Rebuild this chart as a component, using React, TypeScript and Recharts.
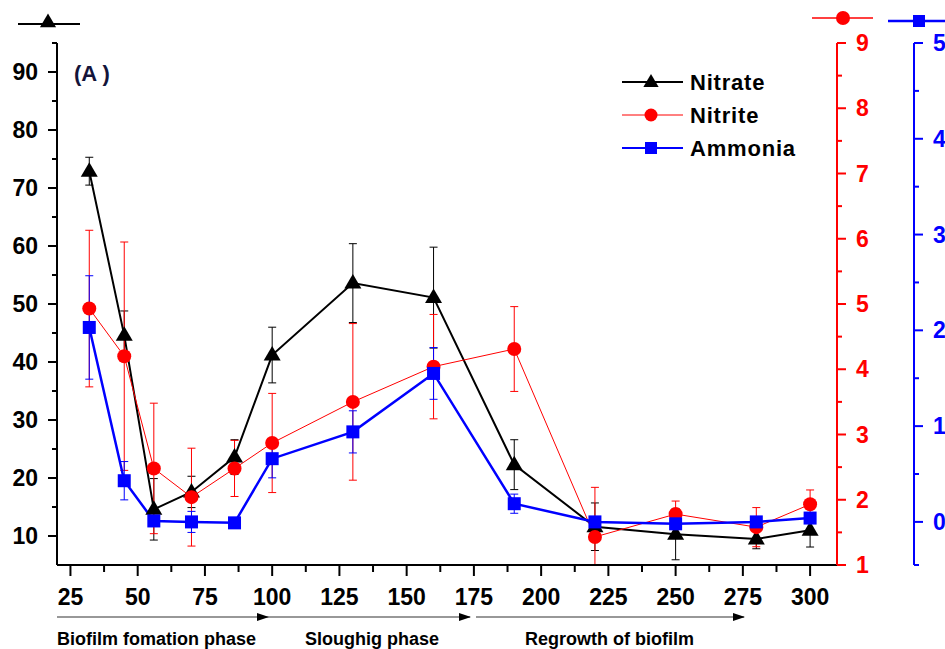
import { LineChart, Line, XAxis, YAxis, ErrorBar, Legend } from 'recharts';

// sampling days
const days = [32, 45, 56, 70, 86, 100, 130, 160, 190, 220, 250, 280, 300];

// left axis
const nitrate = [72.9, 44.6, 14.6, 17.6, 23.6, 41.2, 53.6, 51.1, 22.3, 11.6, 10.3, 9.5, 11.0];
const nitrateErr = [2.4, 4.2, 5.3, 2.7, 3.0, 4.8, 6.8, 8.7, 4.3, 4.1, 4.4, 1.7, 2.9];

// red right axis (220 bar is lopsided: [down, up])
const nitrite = [4.93, 4.2, 2.48, 2.04, 2.48, 2.87, 3.5, 4.04, 4.31, 1.43, 1.78, 1.58, 1.93];
const nitriteErr: (number | number[])[] = [1.2, 1.75, 1.0, 0.75, 0.43, 0.76, 1.2, 0.8, 0.65, [0.43, 0.76], 0.2, 0.3, 0.22];

// blue right axis
const ammonia = [2.03, 0.43, 0.01, 0.0, -0.01, 0.66, 0.94, 1.55, 0.19, 0.0, -0.02, 0.0, 0.04];
const ammoniaErr = [0.54, 0.2, 0.05, 0.11, 0, 0.2, 0.22, 0.27, 0.1, 0, 0, 0, 0];

const xTicks = [25, 37.5, 50, 62.5, 75, 87.5, 100, 112.5, 125, 137.5, 150, 162.5, 175, 187.5, 200, 212.5, 225, 237.5, 250, 262.5, 275, 287.5, 300];
const leftTicks = [10, 15, 20, 25, 30, 35, 40, 45, 50, 55, 60, 65, 70, 75, 80, 85, 90, 95];
const redTicks = [1, 1.5, 2, 2.5, 3, 3.5, 4, 4.5, 5, 5.5, 6, 6.5, 7, 7.5, 8, 8.5, 9];
const blueTicks = [-0.45, 0, 0.5, 1, 1.5, 2, 2.5, 3, 3.5, 4, 4.5, 5];

const phases = ['Biofilm fomation phase', 'Sloughig phase', 'Regrowth of biofilm'];

const data = days.map((d, i) => ({
  day: d,
  nitrate: nitrate[i],
  nitrateErr: nitrateErr[i],
  nitrite: nitrite[i],
  nitriteErr: nitriteErr[i],
  ammonia: ammonia[i],
  ammoniaErr: ammoniaErr[i],
}));

const FONT = '"Liberation Sans", Arial, sans-serif';
const RED = '#ff0000';
const BLUE = '#0000ff';

const triPoints = (cx: number, cy: number, s = 1) =>
  `${cx},${cy - 9 * s} ${cx - 8.5 * s},${cy + 5.5 * s} ${cx + 8.5 * s},${cy + 5.5 * s}`;

const TriangleDot = (props: any) => {
  const { cx, cy } = props;
  if (cx == null || cy == null) return <g key={props.key} />;
  return <polygon key={props.key} points={triPoints(cx, cy)} fill="#000" />;
};

const CircleDot = (props: any) => {
  const { cx, cy } = props;
  if (cx == null || cy == null) return <g key={props.key} />;
  return <circle key={props.key} cx={cx} cy={cy} r={7} fill={RED} />;
};

const SquareDot = (props: any) => {
  const { cx, cy } = props;
  if (cx == null || cy == null) return <g key={props.key} />;
  return <rect key={props.key} x={cx - 6.5} y={cy - 6.5} width={13} height={13} fill={BLUE} />;
};

const XTick = (props: any) => {
  const { x, y, payload } = props;
  const v = payload.value;
  const major = v % 25 === 0;
  return (
    <g>
      <line x1={x} y1={y} x2={x} y2={y + (major ? 11 : 7)} stroke="#000" strokeWidth={2} />
      {major && (
        <text x={x} y={y + 40} textAnchor="middle" fontSize={23} fontWeight="bold" fontFamily={FONT} fill="#000">
          {v}
        </text>
      )}
    </g>
  );
};

const LeftTick = (props: any) => {
  const { x, y, payload } = props;
  const v = payload.value;
  const major = v % 10 === 0;
  return (
    <g>
      <line x1={x} y1={y} x2={x - (major ? 9 : 5)} y2={y} stroke="#000" strokeWidth={2} />
      {major && (
        <text x={x - 19} y={y + 8} textAnchor="end" fontSize={23} fontWeight="bold" fontFamily={FONT} fill="#000">
          {v}
        </text>
      )}
    </g>
  );
};

const makeRightTick = (color: string) => (props: any) => {
  const { x, y, payload } = props;
  const v = payload.value;
  const major = Number.isInteger(v);
  return (
    <g>
      <line x1={x} y1={y} x2={x + (major ? 9 : 5)} y2={y} stroke={color} strokeWidth={2} />
      {major && (
        <text x={x + 19} y={y + 8} textAnchor="start" fontSize={23} fontWeight="bold" fontFamily={FONT} fill={color}>
          {v}
        </text>
      )}
    </g>
  );
};

const RedTick = makeRightTick(RED);
const BlueTick = makeRightTick(BLUE);

const legendItems = [
  { name: 'Nitrate', color: '#000', width: 2, shape: 'tri' },
  { name: 'Nitrite', color: RED, width: 1, shape: 'circle' },
  { name: 'Ammonia', color: BLUE, width: 2, shape: 'square' },
];

const Marker = ({ shape, cx, cy }: { shape: string; cx: number; cy: number }) => {
  if (shape === 'tri') return <polygon points={triPoints(cx, cy, 0.9)} fill="#000" />;
  if (shape === 'circle') return <circle cx={cx} cy={cy} r={6.5} fill={RED} />;
  return <rect x={cx - 6} y={cy - 6} width={12} height={12} fill={BLUE} />;
};

const LegendBox = () => (
  <svg width={200} height={100}>
    {legendItems.map((it, i) => {
      const cy = 15 + i * 33;
      return (
        <g key={it.name}>
          <line x1={2} y1={cy} x2={63} y2={cy} stroke={it.color} strokeWidth={it.width} />
          <Marker shape={it.shape} cx={31} cy={cy} />
          <text x={70} y={cy + 8} fontSize={22} fontWeight="bold" fontFamily={FONT} fill="#000" letterSpacing={0.8}>
            {it.name}
          </text>
        </g>
      );
    })}
  </svg>
);

const Overlay = () => (
  <svg width={945} height={649} style={{ position: 'absolute', left: 0, top: 0, pointerEvents: 'none' }}>
    <defs>
      <marker id="arrowHead" markerWidth="12" markerHeight="8" refX="11" refY="4" orient="auto" markerUnits="userSpaceOnUse">
        <path d="M0,0 L12,4 L0,8 Z" fill="#000" />
      </marker>
    </defs>
    {/* axis series keys above each axis */}
    <line x1={18} y1={24} x2={80} y2={24} stroke="#000" strokeWidth={2} />
    <polygon points={triPoints(48, 22, 0.95)} fill="#000" />
    <line x1={812} y1={18} x2={873} y2={18} stroke={RED} strokeWidth={1.5} />
    <circle cx={843} cy={18} r={7} fill={RED} />
    <line x1={888} y1={21} x2={945} y2={21} stroke={BLUE} strokeWidth={2.5} />
    <rect x={913} y={15} width={12} height={12} fill={BLUE} />

    <text x={74} y={81} fontSize={22} fontWeight="bold" fontFamily={FONT} fill="#14143a">
      (A )
    </text>

    {/* phase arrows */}
    <line x1={57} y1={617} x2={268} y2={617} stroke="#333" strokeWidth={1.2} markerEnd="url(#arrowHead)" />
    <line x1={268} y1={617} x2={470} y2={617} stroke="#333" strokeWidth={1.2} markerEnd="url(#arrowHead)" />
    <line x1={476} y1={617} x2={744} y2={617} stroke="#333" strokeWidth={1.2} markerEnd="url(#arrowHead)" />
    <text x={57} y={645} fontSize={18} fontWeight="bold" fontFamily={FONT} fill="#000">{phases[0]}</text>
    <text x={305} y={645} fontSize={18} fontWeight="bold" fontFamily={FONT} fill="#000">{phases[1]}</text>
    <text x={525} y={645} fontSize={18} fontWeight="bold" fontFamily={FONT} fill="#000">{phases[2]}</text>
  </svg>
);

export default function App() {
  return (
    <div style={{ position: 'absolute', left: 0, top: 0, width: 945, height: 649, overflow: 'hidden', background: '#fff' }}>
      <LineChart width={984} height={649} data={data} margin={{ top: 43, right: 10, bottom: 44, left: 0 }}>
        <XAxis
          dataKey="day"
          type="number"
          domain={[20, 310]}
          allowDataOverflow
          ticks={xTicks}
          interval={0}
          tick={<XTick />}
          tickLine={false}
          tickSize={0}
          tickMargin={0}
          height={40}
          axisLine={{ stroke: '#000', strokeWidth: 2 }}
        />
        <YAxis
          yAxisId="left"
          orientation="left"
          type="number"
          domain={[5, 95]}
          allowDataOverflow
          ticks={leftTicks}
          interval={0}
          tick={<LeftTick />}
          tickLine={false}
          tickSize={0}
          tickMargin={0}
          width={57}
          axisLine={{ stroke: '#000', strokeWidth: 2 }}
        />
        <YAxis
          yAxisId="right1"
          orientation="right"
          type="number"
          domain={[1, 9]}
          allowDataOverflow
          ticks={redTicks}
          interval={0}
          tick={<RedTick />}
          tickLine={false}
          tickSize={0}
          tickMargin={0}
          width={77}
          axisLine={{ stroke: RED, strokeWidth: 2 }}
        />
        <YAxis
          yAxisId="right2"
          orientation="right"
          type="number"
          domain={[-0.45, 5]}
          allowDataOverflow
          ticks={blueTicks}
          interval={0}
          tick={<BlueTick />}
          tickLine={false}
          tickSize={0}
          tickMargin={0}
          width={60}
          axisLine={{ stroke: BLUE, strokeWidth: 2 }}
        />
        <Legend
          layout="vertical"
          align="center"
          verticalAlign="middle"
          content={() => <LegendBox />}
          wrapperStyle={{ top: 67, left: 620, width: 200, height: 100 }}
        />
        <Line
          yAxisId="left"
          dataKey="nitrate"
          name="Nitrate"
          stroke="#000"
          strokeWidth={2}
          dot={TriangleDot}
          activeDot={false}
          isAnimationActive={false}
        >
          <ErrorBar dataKey="nitrateErr" width={4} stroke="#000" strokeWidth={1} direction="y" />
        </Line>
        <Line
          yAxisId="right1"
          dataKey="nitrite"
          name="Nitrite"
          stroke={RED}
          strokeWidth={1}
          dot={CircleDot}
          activeDot={false}
          isAnimationActive={false}
        >
          <ErrorBar dataKey="nitriteErr" width={4} stroke={RED} strokeWidth={1} direction="y" />
        </Line>
        <Line
          yAxisId="right2"
          dataKey="ammonia"
          name="Ammonia"
          stroke={BLUE}
          strokeWidth={2.5}
          dot={SquareDot}
          activeDot={false}
          isAnimationActive={false}
        >
          <ErrorBar dataKey="ammoniaErr" width={4} stroke={BLUE} strokeWidth={1} direction="y" />
        </Line>
      </LineChart>
      <Overlay />
    </div>
  );
}
